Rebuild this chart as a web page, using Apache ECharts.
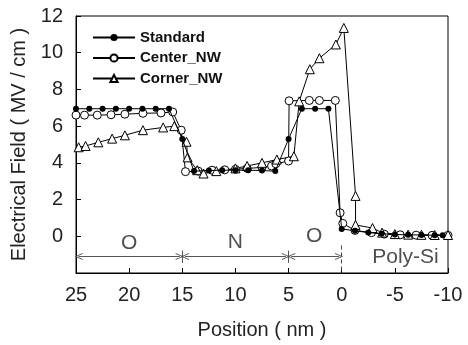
<!DOCTYPE html>
<html>
<head>
<meta charset="utf-8">
<script src="https://cdn.jsdelivr.net/npm/echarts@6/dist/echarts.min.js"></script>
<style>html,body{margin:0;padding:0;background:#fff;}#c{width:468px;height:345px;}</style>
</head>
<body>
<div id="c"></div>
<script>
// ---- data (position in nm, field in MV/cm) ----
const seriesNames = ['Standard', 'Center_NW', 'Corner_NW'];
const standardPos   = [25, 23.75, 22.5, 21.25, 20, 18.75, 17.5, 16.25, 15, 13.9, 12.5, 11.25, 10, 8.8, 7.5, 6.25, 5, 3.75, 2.5, 1.25, 0, -1.25, -2.5, -3.75, -5, -6.25, -7.5, -8.75, -9.5];
const standardField = [6.95, 6.95, 6.95, 6.95, 6.95, 6.95, 6.95, 6.95, 5.3, 3.55, 3.58, 3.6, 3.6, 3.6, 3.58, 3.55, 5.3, 6.95, 6.95, 6.95, 0.4, 0.3, 0.2, 0.14, 0.1, 0.08, 0.07, 0.06, 0.06];
const centerPos   = [25, 24.2, 23, 21.7, 20.4, 18.7, 17, 15.9, 15.1, 14.7, 13.5, 12.2, 11, 10, 8.9, 7.5, 6.6, 6.2, 5, 4.95, 3.05, 2.1, 0.6, 0.15, -0.1, -1.25, -2.8, -4, -5.5, -7, -8.5, -10];
const centerField = [6.6, 6.6, 6.6, 6.62, 6.65, 6.7, 6.72, 6.77, 5.78, 3.52, 3.55, 3.6, 3.62, 3.65, 3.7, 3.75, 3.83, 3.95, 4.1, 7.38, 7.4, 7.4, 7.4, 1.28, 0.7, 0.32, 0.2, 0.12, 0.08, 0.06, 0.05, 0.05];
const cornerPos   = [24.75, 24.1, 22.9, 21.6, 20.4, 18.7, 16.8, 15.75, 14.6, 14.5, 13.6, 13, 11.8, 10, 8.9, 7.5, 6.1, 4.5, 4, 3, 2.1, 0.55, -0.2, -1.3, -1.3, -2.9, -3.8, -5, -6.25, -7.5, -8.75, -10];
const cornerField = [4.85, 4.92, 5.12, 5.32, 5.5, 5.78, 5.93, 6.0, 5.15, 4.3, 3.6, 3.42, 3.55, 3.7, 3.83, 4.0, 4.18, 4.36, 7.35, 9.1, 9.7, 10.45, 11.35, 2.2, 0.62, 0.45, 0.2, 0.12, 0.09, 0.08, 0.07, 0.07];

const xTicks = {min: -10, max: 25, step: 5};
const yTicks = {min: -2, max: 12, step: 2};

// region annotations
const regionBounds = [25, 15, 5, 0];       // arrow segment ends
const arrowLevel = -1.1;
const regionLabels = [
  {name: 'O', pos: 20, field: -0.4},
  {name: 'N', pos: 10, field: -0.32},
  {name: 'O', pos: 2.6, field: -0.02},
  {name: 'Poly-Si', pos: -6, field: -1.15}
];

const zip = (xs, ys) => xs.map((x, i) => [x, ys[i]]);

const FONT = 'Liberation Sans, Arial, sans-serif';
const chevron = 'path://M5,0 L10,10 L8.6,10 L5,2.6 L1.4,10 L0,10 Z';

const arrowLines = [];
for (let i = 0; i < regionBounds.length - 1; i++) {
  const a = regionBounds[i], b = regionBounds[i + 1];
  arrowLines.push([{coord: [a - 0.25, arrowLevel]}, {coord: [b + 0.25, arrowLevel]}]);
}
const dividerLines = [
  [{coord: [15, -0.78], symbol: 'none'}, {coord: [15, -1.45], symbol: 'none'}],
  [{coord: [5, -0.78], symbol: 'none'}, {coord: [5, -1.45], symbol: 'none'}]
];
const dashedLines = [
  [{coord: [0, -0.5], symbol: 'none'}, {coord: [0, -2], symbol: 'none'}]
];

const lineBase = {
  type: 'line',
  showAllSymbol: true,
  lineStyle: {color: '#000', width: 1},
  emphasis: {disabled: true},
  z: 3
};

const chart = echarts.init(document.getElementById('c'));
chart.setOption({
  animation: false,
  backgroundColor: '#fff',
  textStyle: {fontFamily: FONT},
  grid: {left: 76, right: 20, top: 16, bottom: 65, show: true, borderColor: '#000', borderWidth: 1},
  legend: {
    data: seriesNames,
    orient: 'vertical',
    left: 87, top: 25,
    itemWidth: 42, itemHeight: 9, itemGap: 5.5,
    textStyle: {fontFamily: FONT, fontWeight: 'bold', fontSize: 15, color: '#111'}
  },
  xAxis: {
    type: 'value', inverse: true,
    min: xTicks.min, max: xTicks.max, interval: xTicks.step,
    name: 'Position ( nm )', nameLocation: 'middle', nameGap: 47,
    nameTextStyle: {fontSize: 20, color: '#222', fontFamily: FONT},
    axisLine: {onZero: false, lineStyle: {color: '#000', width: 1}},
    axisTick: {inside: true, length: 5, lineStyle: {color: '#000'}},
    axisLabel: {fontSize: 20, color: '#222', margin: 12, fontFamily: FONT},
    splitLine: {show: false}
  },
  yAxis: {
    type: 'value',
    min: yTicks.min, max: yTicks.max, interval: yTicks.step,
    name: 'Electrical Field ( MV / cm )', nameLocation: 'middle', nameGap: 34,
    nameTextStyle: {fontSize: 20, color: '#222', fontFamily: FONT},
    axisLine: {onZero: false, lineStyle: {color: '#000', width: 1}},
    axisTick: {inside: true, length: 5, lineStyle: {color: '#000'}},
    axisLabel: {fontSize: 20, color: '#222', margin: 13, fontFamily: FONT,
      formatter: v => (v < 0 ? '' : String(v))},
    splitLine: {show: false}
  },
  series: [
    Object.assign({}, lineBase, {
      name: seriesNames[0],
      data: zip(standardPos, standardField),
      symbol: 'circle', symbolSize: 6,
      itemStyle: {color: '#000', borderColor: '#000', borderWidth: 0},
      z: 4
    }),
    Object.assign({}, lineBase, {
      name: seriesNames[1],
      data: zip(centerPos, centerField),
      symbol: 'circle', symbolSize: 8,
      itemStyle: {color: '#fff', borderColor: '#000', borderWidth: 1}
    }),
    Object.assign({}, lineBase, {
      name: seriesNames[2],
      data: zip(cornerPos, cornerField),
      symbol: 'triangle', symbolSize: 9,
      itemStyle: {color: '#fff', borderColor: '#000', borderWidth: 1}
    }),
    {
      name: 'annotations',
      type: 'scatter',
      data: regionLabels.map(d => ({name: d.name, value: [d.pos, d.field]})),
      symbolSize: 0,
      silent: true,
      label: {show: true, position: 'inside', formatter: '{b}', fontSize: 21, color: '#222', fontFamily: FONT},
      markLine: {
        silent: true,
        symbol: [chevron, chevron],
        symbolSize: [7, 8],
        label: {show: false},
        lineStyle: {color: '#555', width: 1, type: 'solid'},
        data: arrowLines.concat(dividerLines)
      }
    },
    {
      name: 'dash',
      type: 'scatter',
      data: [],
      silent: true,
      markLine: {
        silent: true,
        symbol: 'none',
        label: {show: false},
        lineStyle: {color: '#444', width: 1, type: [4, 3]},
        data: dashedLines
      }
    }
  ]
});
</script>
</body>
</html>
